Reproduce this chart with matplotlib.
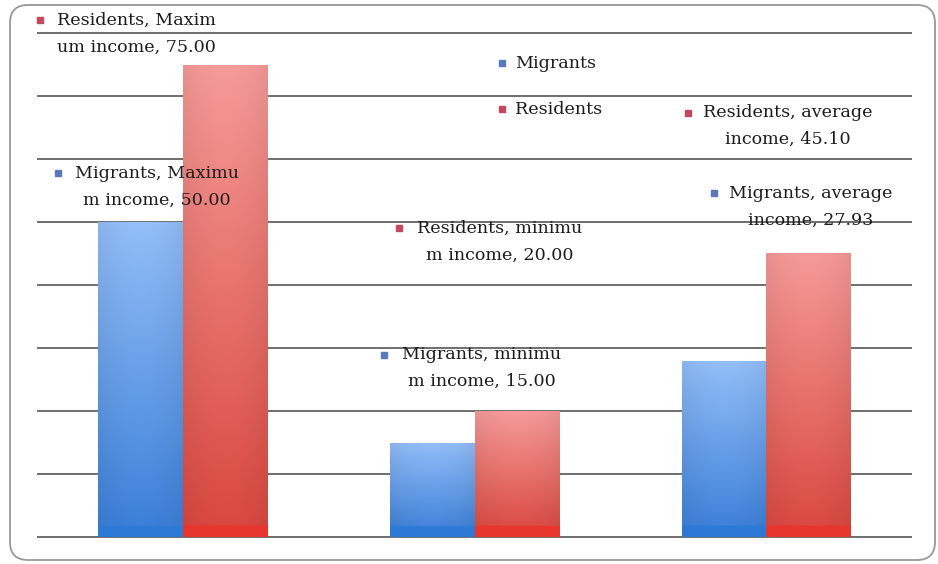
import numpy as np
import matplotlib
matplotlib.use("Agg")
import matplotlib.pyplot as plt
from matplotlib.colors import to_rgba
from matplotlib.patches import FancyBboxPatch

# data
categories = ["Maximum income", "minimum income", "average income"]
series = ["Migrants", "Residents"]
migrants = [50.00, 15.00, 27.93]
residents = [75.00, 20.00, 45.10]

W, H = 938, 564
PX_PER_UNIT = 504 / 80          # gridline spacing of 10 units = 63 px
X0, X1 = 37, 912                # plot area left/right in px
BASE = 537                      # baseline in px (from top)
YMIN, YMAX = -0.3, 80.3

fig = plt.figure(figsize=(W / 100, H / 100), dpi=100)
fig.patch.set_facecolor("white")

# pixel-space overlay used for the frame and the labels
bg = fig.add_axes([0, 0, 1, 1], zorder=0)
bg.set_xlim(0, W)
bg.set_ylim(H, 0)
bg.axis("off")
bg.add_patch(FancyBboxPatch((10, 5), 925, 555, boxstyle="round,pad=0,rounding_size=18",
                            fc="white", ec="#999999", lw=1.3))

top_px = BASE - (YMAX * PX_PER_UNIT)
bot_px = BASE - (YMIN * PX_PER_UNIT)
ax = fig.add_axes([X0 / W, (H - bot_px) / H, (X1 - X0) / W, (bot_px - top_px) / H], zorder=1)
ax.patch.set_alpha(0)
ax.set_xlim(-0.5, 2.5)
ax.set_ylim(YMIN, YMAX)
ax.set_yticks(np.arange(0, 81, 10))
ax.yaxis.grid(True, color="#474747", lw=1.1)
ax.set_axisbelow(True)
ax.tick_params(left=False, labelleft=False, bottom=False, labelbottom=False)
for s in ax.spines.values():
    s.set_visible(False)

bar_w = 0.29
x = np.arange(len(categories))
styles = {
    "Migrants": dict(top="#93bef8", bot="#3a7ed8", band="#2c7ad6"),
    "Residents": dict(top="#f69b98", bot="#d9473f", band="#e8352d"),
}


def gradient_fill(bar, top, bot, band, band_units=1.75):
    x0, y0 = bar.get_x(), bar.get_y()
    w, h = bar.get_width(), bar.get_height()
    n = 200
    t = np.linspace(0, 1, n)[:, None]           # 0 = bottom, 1 = top
    c_top, c_bot, c_band = (np.array(to_rgba(c)) for c in (top, bot, band))
    col = c_bot + (c_top - c_bot) * t
    col = np.repeat(col[:, None, :], 40, axis=1)
    # slight shading toward the bar edges
    u = np.linspace(-1, 1, 40)
    shade = 1 - 0.06 * u ** 2
    col[..., :3] *= shade[None, :, None]
    nb = int(round(n * band_units / h))
    col[:nb, :, :] = c_band
    im = ax.imshow(col, extent=(x0, x0 + w, y0, y0 + h), origin="lower",
                   aspect="auto", zorder=2, interpolation="bilinear")
    im.set_clip_path(bar)


for name, vals, off in [("Migrants", migrants, -bar_w / 2), ("Residents", residents, bar_w / 2)]:
    bars = ax.bar(x + off, vals, width=bar_w, color="none", edgecolor="none", zorder=2)
    for b in bars:
        gradient_fill(b, **styles[name])

ax.set_xlim(-0.5, 2.5)
ax.set_ylim(YMIN, YMAX)

marker_col = {"Migrants": "#5a78bd", "Residents": "#c4475e"}
font = dict(family="DejaVu Serif", fontsize=12.6, color="#1c1c1c")

# data labels: (series, category index, line break index, text centre px, marker px)
label_layout = [
    ("Residents", 0, 16, (136, 34), (40, 20)),
    ("Migrants", 0, 16, (157, 187), (58, 173)),
    ("Residents", 1, 17, (500, 242), (399, 228)),
    ("Migrants", 1, 16, (482, 368), (384, 355)),
    ("Residents", 2, 18, (788, 126), (688, 113)),
    ("Migrants", 2, 17, (811, 207), (714, 193)),
]
values = {"Migrants": migrants, "Residents": residents}
for name, ci, brk, (tx, ty), (mx, my) in label_layout:
    head = f"{name}, {categories[ci]}, {values[name][ci]:.2f}"
    txt = head[:brk].rstrip() + "\n" + head[brk:].lstrip()
    ax.text(tx, ty, txt, transform=bg.transData, ha="center", va="center",
            multialignment="center", linespacing=1.76, zorder=5, clip_on=False, **font)
    ax.plot(mx, my, "s", ms=5, color=marker_col[name], transform=bg.transData,
            clip_on=False, zorder=5)

# legend
for name, ly in [("Migrants", 63), ("Residents", 109)]:
    ax.plot(502, ly, "s", ms=4.5, color=marker_col[name], transform=bg.transData,
            clip_on=False, zorder=5)
    ax.text(515, ly, name, transform=bg.transData, ha="left", va="center",
            zorder=5, clip_on=False, **font)

fig.savefig("out.png", dpi=100, facecolor="white")
